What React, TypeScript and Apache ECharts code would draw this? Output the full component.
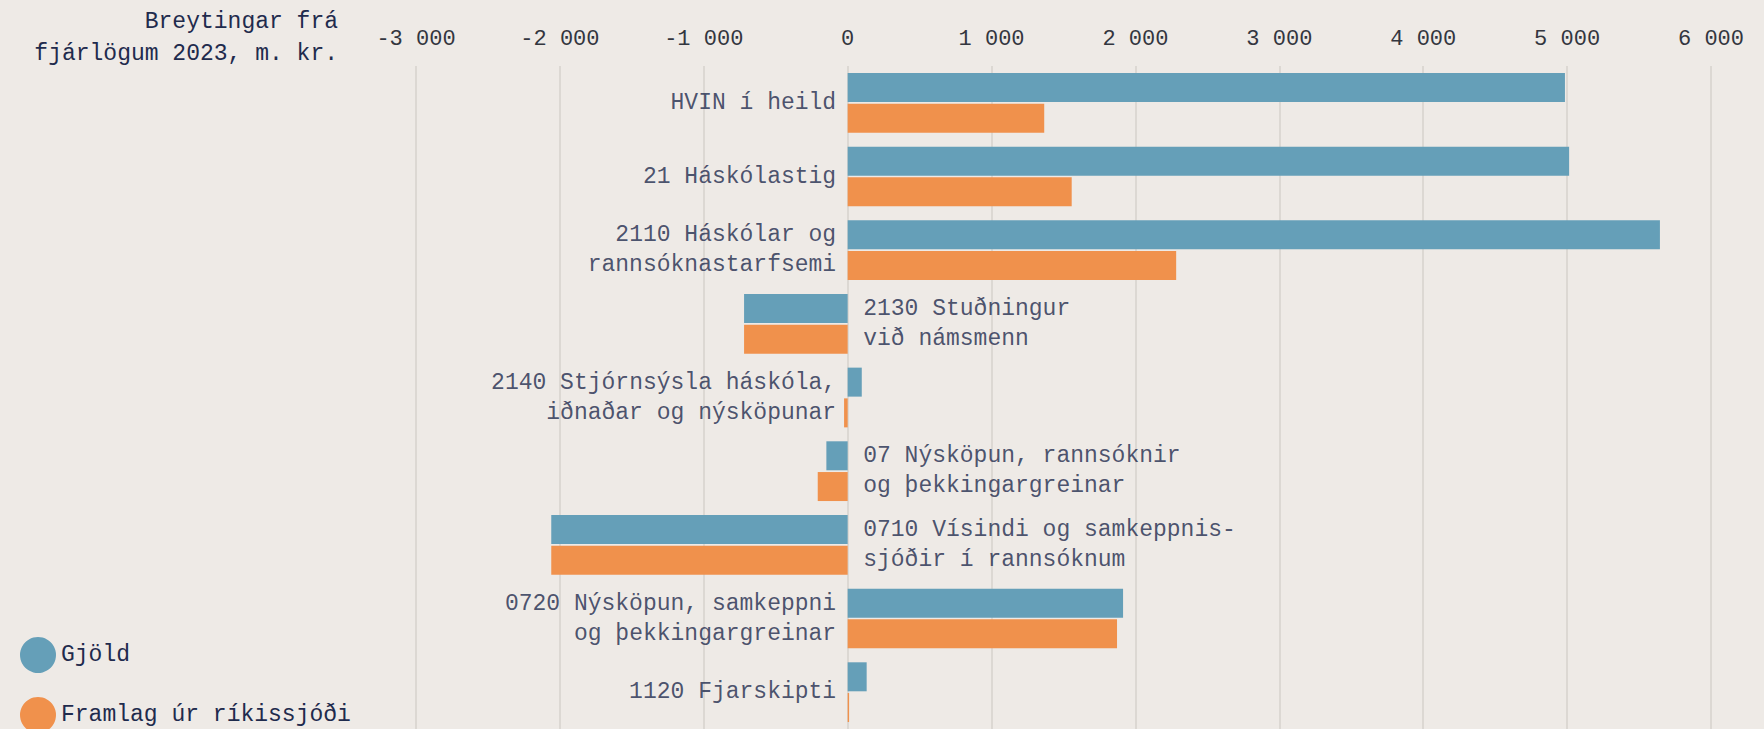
import React, { useEffect, useRef } from "react";
import * as echarts from "echarts";

const categories = [
  "HVIN í heild",
  "21 Háskólastig",
  "2110 Háskólar og\nrannsóknastarfsemi",
  "2130 Stuðningur\nvið námsmenn",
  "2140 Stjórnsýsla háskóla,\niðnaðar og nýsköpunar",
  "07 Nýsköpun, rannsóknir\nog þekkingargreinar",
  "0710 Vísindi og samkeppnis-\nsjóðir í rannsóknum",
  "0720 Nýsköpun, samkeppni\nog þekkingargreinar",
  "1120 Fjarskipti",
];
const gjold = [4985, 5014, 5645, -720, 98, -148, -2060, 1914, 132];
const framlag = [1366, 1557, 2283, -720, -25, -208, -2060, 1872, 10];
const seriesNames = ["Gjöld", "Framlag úr ríkissjóði"];
const xTicks = [-3000, -2000, -1000, 0, 1000, 2000, 3000, 4000, 5000, 6000];
const axisTitle = "Breytingar frá\nfjárlögum 2023, m. kr.";

const FONT = "'Liberation Mono', 'Courier New', monospace";
const TEXT = "#1f2b4d";
const BLUE = "#659fb8";
const ORANGE = "#f0914c";
const BG = "#eeeae6";

function fmt(v: number): string {
  const s = Math.abs(v).toString();
  const body = s.length > 3 ? s.slice(0, s.length - 3) + "\u00a0" + s.slice(-3) : s;
  return (v < 0 ? "-" : "") + body;
}

export default function App() {
  const ref = useRef<HTMLDivElement>(null);
  useEffect(() => {
    document.body.style.margin = "0";
    document.body.style.background = BG;
    const chart = echarts.init(ref.current!, null, { renderer: "svg" });
    chart.setOption({
      animation: false,
      backgroundColor: BG,
      grid: { left: 416, width: 1295, top: 66, height: 668 },
      xAxis: {
        type: "value",
        position: "top",
        min: xTicks[0],
        max: xTicks[xTicks.length - 1],
        interval: 1000,
        axisLine: { show: false },
        axisTick: { show: false },
        splitLine: { show: true, lineStyle: { color: "#d6d2cd", width: 1.5 } },
        axisLabel: {
          margin: 16,
          fontFamily: FONT,
          fontSize: 22,
          color: "#33363f",
          formatter: (v: number) => fmt(v),
        },
      },
      yAxis: {
        type: "category",
        data: categories,
        inverse: true,
        axisLine: { show: false },
        axisTick: { show: false },
        axisLabel: { show: false },
        splitLine: { show: false },
      },
      legend: {
        data: seriesNames,
        orient: "vertical",
        left: 15,
        top: 632,
        height: 97,
        icon: "circle",
        itemWidth: 36,
        itemHeight: 36,
        itemGap: 24,
        textStyle: { fontFamily: FONT, fontSize: 23, color: TEXT },
      },
      graphic: [
        {
          type: "text",
          x: 338,
          y: 6,
          style: {
            text: axisTitle,
            font: `23px ${FONT}`,
            fill: TEXT,
            align: "right",
            verticalAlign: "top",
            lineHeight: 32,
          },
        },
      ],
      series: [
        {
          name: seriesNames[0],
          type: "bar",
          data: gjold,
          barWidth: 29,
          barGap: "6%",
          itemStyle: { color: BLUE },
        },
        {
          name: seriesNames[1],
          type: "bar",
          data: framlag,
          barWidth: 29,
          barGap: "6%",
          itemStyle: { color: ORANGE },
        },
        {
          name: "labels",
          type: "scatter",
          symbolSize: 1,
          itemStyle: { color: "rgba(0,0,0,0)" },
          silent: true,
          z: 5,
          data: categories.map((c, i) => ({
            value: [0, c],
            label: {
              show: true,
              position: gjold[i] >= 0 ? "left" : "right",
              distance: gjold[i] >= 0 ? 11 : 15,
              formatter: c,
              fontFamily: FONT,
              fontSize: 23,
              lineHeight: 30,
              color: TEXT,
            },
          })),
        },
      ],
    });
    return () => chart.dispose();
  }, []);
  return <div ref={ref} style={{ width: 1764, height: 729 }} />;
}
